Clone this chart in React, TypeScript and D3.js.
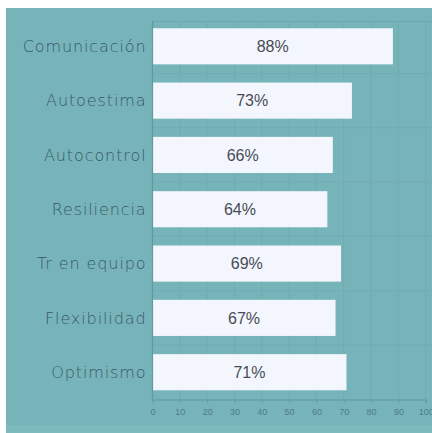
import React, { useEffect, useRef } from "react";
import * as d3 from "d3";

const categories = ["Comunicación", "Autoestima", "Autocontrol", "Resiliencia", "Tr en equipo", "Flexibilidad", "Optimismo"];
const values = [88, 73, 66, 64, 69, 67, 71];
const xTicks = [0, 10, 20, 30, 40, 50, 60, 70, 80, 90, 100];

const W = 432;
const H = 433;

export default function App() {
  const ref = useRef<SVGSVGElement | null>(null);

  useEffect(() => {
    const svg = d3.select(ref.current);
    svg.selectAll("*").remove();

    const left = 152.5;
    const right = 425.7;
    const top = 19;
    const bottom = 399.5;

    svg.append("rect").attr("x", 0).attr("y", 0).attr("width", W).attr("height", H).attr("fill", "#ffffff");
    svg.append("rect").attr("x", 6).attr("y", 8).attr("width", W - 6).attr("height", H - 8).attr("fill", "#77b4b9");
    svg.append("rect").attr("x", 6).attr("y", 425).attr("width", W - 6).attr("height", 8).attr("fill", "#7cbabe");

    const x = d3.scaleLinear().domain([0, 100]).range([left, right]);
    const y = d3.scaleBand<string>().domain(categories).range([top, bottom]).paddingInner(0.335).paddingOuter(0.17);

    const g = svg.append("g");

    g.append("line").attr("x1", left).attr("x2", W).attr("y1", 21.5).attr("y2", 21.5).attr("stroke", "#6aa8ad").attr("stroke-width", 1);

    g.selectAll("line.vg")
      .data(xTicks.slice(1))
      .join("line")
      .attr("class", "vg")
      .attr("x1", (d) => x(d))
      .attr("x2", (d) => x(d))
      .attr("y1", 21)
      .attr("y2", bottom)
      .attr("stroke", "#70abb0")
      .attr("stroke-width", 1);

    const step = y.step();
    g.selectAll("line.hg")
      .data(categories.slice(1))
      .join("line")
      .attr("class", "hg")
      .attr("x1", left)
      .attr("x2", W)
      .attr("y1", (d) => (y(d) as number) - (step - y.bandwidth()) / 2)
      .attr("y2", (d) => (y(d) as number) - (step - y.bandwidth()) / 2)
      .attr("stroke", "#71acb1")
      .attr("stroke-width", 1);

    g.selectAll("rect.bar")
      .data(categories)
      .join("rect")
      .attr("class", "bar")
      .attr("x", x(0))
      .attr("y", (d) => y(d) as number)
      .attr("width", (d, i) => x(values[i]) - x(0))
      .attr("height", y.bandwidth())
      .attr("fill", "#f3f6fc");

    g.selectAll("text.val")
      .data(categories)
      .join("text")
      .attr("class", "val")
      .attr("x", (d, i) => (x(0) + x(values[i])) / 2)
      .attr("y", (d) => (y(d) as number) + y.bandwidth() / 2)
      .attr("dy", "0.36em")
      .attr("text-anchor", "middle")
      .attr("font-family", "Liberation Sans, Arial, sans-serif")
      .attr("font-size", 16)
      .attr("fill", "#474c57")
      .text((d, i) => `${values[i]}%`);

    g.append("line").attr("x1", left).attr("x2", left).attr("y1", 21).attr("y2", bottom).attr("stroke", "#5f9aa0").attr("stroke-width", 1.2);

    g.selectAll("text.cat")
      .data(categories)
      .join("text")
      .attr("class", "cat")
      .attr("x", left - 6)
      .attr("y", (d) => (y(d) as number) + y.bandwidth() / 2)
      .attr("dy", "0.36em")
      .attr("text-anchor", "end")
      .attr("font-family", "DejaVu Sans, sans-serif")
      .attr("font-size", 16)
      .attr("font-weight", 300)
      .attr("letter-spacing", 0.9)
      .attr("fill", "#38586a")
      .text((d) => d);

    const xAxis = d3.axisBottom(x).tickValues(xTicks).tickSize(3).tickPadding(6).tickFormat((d) => String(d));
    const ax = g.append("g").attr("transform", `translate(0,${bottom})`).call(xAxis);
    ax.select(".domain").attr("stroke", "#5f9aa0");
    ax.selectAll(".tick line").attr("stroke", "#5f9aa0");
    ax.selectAll(".tick text")
      .attr("font-family", "Liberation Sans, Arial, sans-serif")
      .attr("font-size", 9)
      .attr("fill", "#4d7b89");
  }, []);

  return (
    <svg
      ref={ref}
      width={W}
      height={H}
      style={{ position: "absolute", left: 0, top: 0, display: "block" }}
    />
  );
}
